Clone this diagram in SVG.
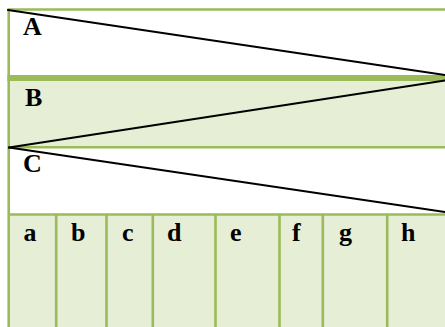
<svg xmlns="http://www.w3.org/2000/svg" width="445" height="327" viewBox="0 0 445 327">
<style>
.g{stroke:#9BBB59;stroke-width:2.6;fill:none}
.f{fill:#E6EED6}
.t{font-family:"Liberation Serif","Times New Roman",serif;font-weight:bold;font-size:26px;fill:#000}
.d{stroke:#000;stroke-width:2.2;fill:none;stroke-linecap:round}
</style>
<rect width="445" height="327" fill="#fff"/>
<g id="rowA">
<rect x="8.7" y="9.5" width="440" height="66" fill="#fff"/>
<text class="t" x="23" y="35">A</text>
</g>
<g id="rowB">
<rect class="f" x="8.7" y="81" width="440" height="66"/>
<text class="t" x="25" y="106">B</text>
</g>
<g id="rowC">
<rect x="8.7" y="147.3" width="440" height="67" fill="#fff"/>
<text class="t" x="23" y="172">C</text>
</g>
<g id="cells">
<rect class="f" x="8.7" y="214.5" width="440" height="115"/>
<text class="t" x="23.5" y="241">a</text>
<text class="t" x="71" y="241">b</text>
<text class="t" x="122" y="241">c</text>
<text class="t" x="167" y="241">d</text>
<text class="t" x="230" y="241">e</text>
<text class="t" x="292" y="241">f</text>
<text class="t" x="339" y="241">g</text>
<text class="t" x="401" y="241">h</text>
</g>
<g id="grid">
<line class="g" x1="8.7" y1="9.5" x2="450" y2="9.5"/>
<line x1="7.4" y1="78" x2="450" y2="78" stroke="#9BBB59" stroke-width="6"/>
<line class="g" x1="8.7" y1="147.3" x2="450" y2="147.3"/>
<line class="g" x1="8.7" y1="214.5" x2="450" y2="214.5"/>
<line class="g" x1="8.7" y1="8.2" x2="8.7" y2="330"/>
<line class="g" x1="56.2" y1="214.5" x2="56.2" y2="330"/>
<line class="g" x1="106.5" y1="214.5" x2="106.5" y2="330"/>
<line class="g" x1="152.8" y1="214.5" x2="152.8" y2="330"/>
<line class="g" x1="215.5" y1="214.5" x2="215.5" y2="330"/>
<line class="g" x1="279.5" y1="214.5" x2="279.5" y2="330"/>
<line class="g" x1="322.8" y1="214.5" x2="322.8" y2="330"/>
<line class="g" x1="387.2" y1="214.5" x2="387.2" y2="330"/>
</g>
<g id="connectors">
<line class="d" x1="8" y1="10" x2="445" y2="75"/>
<line class="d" x1="445" y1="80.5" x2="9" y2="147.5"/>
<line class="d" x1="9" y1="147.5" x2="445" y2="212"/>
</g>
</svg>
